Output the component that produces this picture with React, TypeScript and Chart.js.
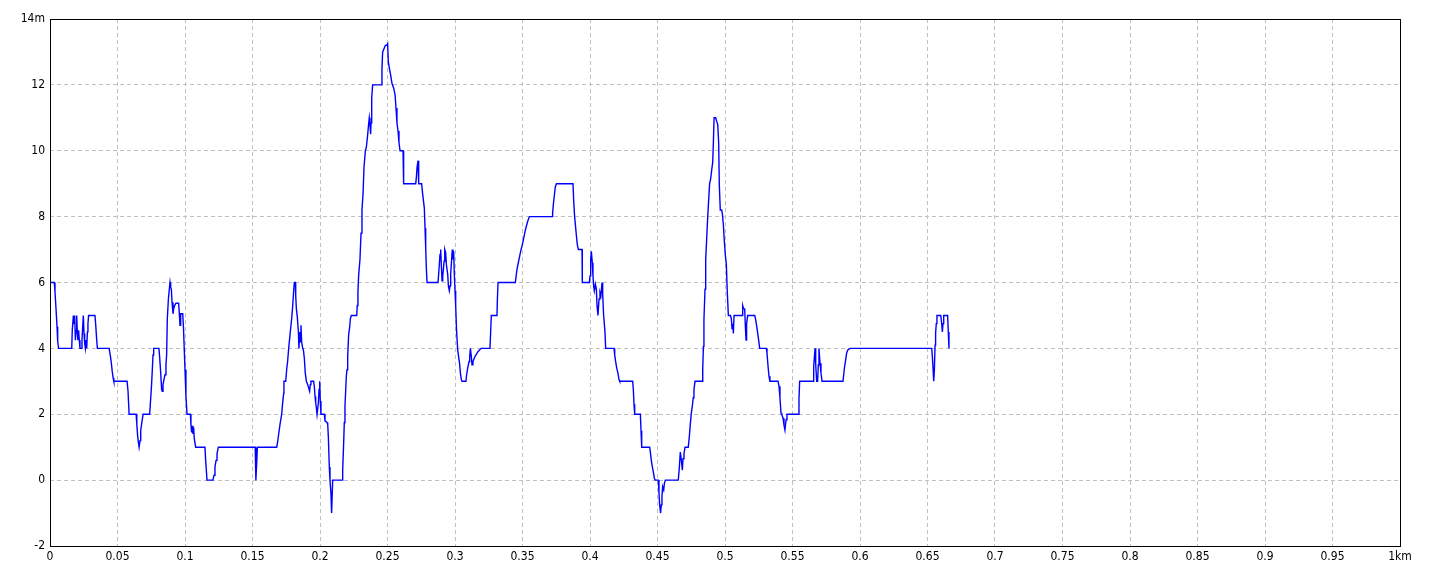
import React, { useEffect, useRef } from "react";
import { Chart, registerables } from "chart.js";

Chart.register(...registerables);

// Distance along the profile (km)
const distKm: number[] = [
  0, 0.0032, 0.0037, 0.0044, 0.0052, 0.0057, 0.0064, 0.0161, 0.0165, 0.0173,
  0.0178, 0.0183, 0.0188, 0.0193, 0.0198, 0.0202, 0.0207, 0.0212, 0.0217, 0.0222,
  0.0232, 0.0237, 0.0242, 0.0247, 0.0252, 0.0257, 0.0262, 0.0267, 0.0272, 0.0277,
  0.0281, 0.0286, 0.0333, 0.0338, 0.0346, 0.0351, 0.0438, 0.0446, 0.0453, 0.0461,
  0.0468, 0.0473, 0.0571, 0.0578, 0.0586, 0.0638, 0.0643, 0.065, 0.066, 0.0667,
  0.0672, 0.0682, 0.069, 0.0738, 0.0743, 0.0751, 0.0758, 0.0763, 0.0768, 0.0807,
  0.0812, 0.082, 0.0827, 0.0832, 0.0837, 0.0844, 0.0852, 0.0859, 0.0864, 0.0869,
  0.0877, 0.0884, 0.0889, 0.0894, 0.0899, 0.0904, 0.0911, 0.0916, 0.0923, 0.0933,
  0.0953, 0.0958, 0.0963, 0.0968, 0.0983, 0.0988, 0.0993, 0.1, 0.1007, 0.1015,
  0.104, 0.1044, 0.1049, 0.1054, 0.1059, 0.1064, 0.1069, 0.1079, 0.1148, 0.1153,
  0.1158, 0.1163, 0.1207, 0.1215, 0.1222, 0.123, 0.1237, 0.1247, 0.152, 0.1525,
  0.1532, 0.1536, 0.1679, 0.1686, 0.1694, 0.1704, 0.1716, 0.1723, 0.1731, 0.1733,
  0.1746, 0.1753, 0.176, 0.1768, 0.178, 0.179, 0.1798, 0.1805, 0.181, 0.1817,
  0.182, 0.1825, 0.1832, 0.184, 0.1844, 0.1849, 0.1854, 0.1859, 0.1864, 0.1872,
  0.1877, 0.1884, 0.1891, 0.1899, 0.1909, 0.1916, 0.1923, 0.1928, 0.1933, 0.1953,
  0.1958, 0.1963, 0.1968, 0.1973, 0.1978, 0.1983, 0.1988, 0.1993, 0.1998, 0.2002,
  0.2007, 0.2032, 0.2037, 0.2052, 0.2057, 0.2062, 0.2069, 0.2074, 0.2081, 0.2086,
  0.2094, 0.2163, 0.2168, 0.2175, 0.218, 0.2185, 0.219, 0.2195, 0.22, 0.2205,
  0.2212, 0.222, 0.2225, 0.2232, 0.2272, 0.2276, 0.2281, 0.2286, 0.2296, 0.2304,
  0.2311, 0.2319, 0.2326, 0.2336, 0.2343, 0.2351, 0.236, 0.2365, 0.237, 0.2375,
  0.2378, 0.2383, 0.239, 0.2457, 0.2459, 0.2464, 0.2474, 0.2484, 0.2494, 0.2501,
  0.2506, 0.2514, 0.2523, 0.2533, 0.2546, 0.2556, 0.2563, 0.257, 0.2578, 0.2585,
  0.2593, 0.2615, 0.2617, 0.2622, 0.2709, 0.2714, 0.2719, 0.2726, 0.2731, 0.2753,
  0.276, 0.2773, 0.2778, 0.2783, 0.2788, 0.2793, 0.2874, 0.2879, 0.2889, 0.2894,
  0.2899, 0.2904, 0.2909, 0.2914, 0.2919, 0.2924, 0.2931, 0.2936, 0.2946, 0.2951,
  0.2958, 0.2963, 0.2968, 0.2975, 0.298, 0.2985, 0.299, 0.2995, 0.3, 0.3005,
  0.3012, 0.302, 0.3027, 0.3035, 0.304, 0.3047, 0.3052, 0.3081, 0.3086, 0.3094,
  0.3104, 0.3109, 0.3114, 0.3121, 0.3126, 0.3133, 0.3148, 0.317, 0.3193, 0.3259,
  0.3264, 0.3269, 0.3311, 0.3314, 0.3319, 0.3447, 0.3459, 0.3469, 0.3479, 0.3489,
  0.3499, 0.3509, 0.3519, 0.3528, 0.3538, 0.3551, 0.3719, 0.3723, 0.3728, 0.3736,
  0.3743, 0.3751, 0.3874, 0.3879, 0.3886, 0.3894, 0.3901, 0.3906, 0.3914, 0.3941,
  0.3943, 0.3995, 0.4, 0.4005, 0.401, 0.4017, 0.4022, 0.4027, 0.4032, 0.404,
  0.4047, 0.4052, 0.4059, 0.4067, 0.4074, 0.4081, 0.4089, 0.4094, 0.4101, 0.4111,
  0.4116, 0.4178, 0.4183, 0.419, 0.4198, 0.4207, 0.4215, 0.422, 0.4316, 0.4321,
  0.4326, 0.4331, 0.4373, 0.4378, 0.4383, 0.4442, 0.4447, 0.4454, 0.4462, 0.4469,
  0.4477, 0.4484, 0.4506, 0.4511, 0.4516, 0.4523, 0.4528, 0.4533, 0.4538, 0.4546,
  0.4551, 0.4558, 0.4654, 0.4662, 0.4669, 0.4677, 0.4684, 0.4689, 0.4696, 0.4704,
  0.4728, 0.4736, 0.4743, 0.4751, 0.4758, 0.4765, 0.477, 0.4778, 0.483, 0.4835,
  0.484, 0.4844, 0.4852, 0.4857, 0.4864, 0.4872, 0.4879, 0.4886, 0.4894, 0.4901,
  0.4909, 0.4914, 0.4919, 0.4931, 0.4938, 0.4946, 0.4953, 0.4958, 0.4965, 0.4975,
  0.498, 0.4988, 0.4995, 0.5002, 0.501, 0.5017, 0.5025, 0.504, 0.5047, 0.5052,
  0.5057, 0.5062, 0.5067, 0.5126, 0.5131, 0.5138, 0.5146, 0.5151, 0.5156, 0.516,
  0.5168, 0.522, 0.5227, 0.5235, 0.5242, 0.5249, 0.5257, 0.5306, 0.5311, 0.5319,
  0.5326, 0.5333, 0.5393, 0.54, 0.5407, 0.5415, 0.5422, 0.543, 0.5437, 0.5444,
  0.5452, 0.5459, 0.5541, 0.5548, 0.5553, 0.5652, 0.5657, 0.5667, 0.5672, 0.5679,
  0.5686, 0.5691, 0.5696, 0.5704, 0.5711, 0.5719, 0.5874, 0.5879, 0.5886, 0.5894,
  0.5901, 0.5911, 0.5928, 0.6531, 0.6536, 0.6541, 0.6546, 0.6551, 0.6556, 0.656,
  0.6565, 0.657, 0.6598, 0.6605, 0.661, 0.6615, 0.662, 0.6649, 0.6654, 0.6659,
];

// Elevation (m)
const elevM: number[] = [
  6.0, 6.0, 5.72, 5.24, 4.66, 4.2, 4.0, 4.0, 4.55, 5.0,
  4.75, 5.0, 4.25, 4.55, 5.0, 4.5, 4.25, 4.55, 4.25, 4.0,
  4.0, 4.25, 4.65, 5.0, 4.45, 4.15, 4.0, 4.25, 4.0, 4.5,
  4.75, 5.0, 5.0, 4.75, 4.25, 4.0, 4.0, 3.8, 3.6, 3.3,
  3.1, 3.0, 3.0, 2.7, 2.0, 2.0, 1.7, 1.3, 1.0, 1.2,
  1.5, 1.8, 2.0, 2.0, 2.3, 2.8, 3.35, 3.8, 4.0, 4.0,
  3.75, 3.25, 2.75, 2.7, 2.9, 3.05, 3.2, 3.5, 3.8, 4.9,
  5.5, 5.8, 6.0, 5.85, 5.8, 5.4, 5.05, 5.2, 5.3, 5.37,
  5.37, 5.05, 4.7, 5.05, 5.05, 4.7, 4.15, 3.35, 2.55, 2.0,
  2.0, 1.7, 1.45, 1.65, 1.4, 1.6, 1.25, 1.0, 1.0, 0.6,
  0.3, 0.0, 0.0, 0.15, 0.4, 0.6, 0.8, 1.0, 1.0, 0.0,
  0.6, 1.0, 1.0, 1.15, 1.4, 1.7, 2.0, 2.33, 2.64, 3.0,
  3.0, 3.35, 3.6, 4.0, 4.5, 4.9, 5.3, 5.75, 6.0, 6.0,
  5.6, 5.2, 4.95, 4.5, 4.0, 4.5, 4.2, 4.7, 4.2, 4.0,
  3.95, 3.7, 3.25, 3.0, 2.9, 2.8, 2.7, 2.9, 3.0, 3.0,
  2.85, 2.55, 2.35, 2.2, 2.0, 2.0, 2.35, 2.75, 3.0, 2.4,
  2.0, 2.0, 1.8, 1.75, 1.7, 1.3, 0.4, 0.0, -0.4, -1.0,
  0.0, 0.0, 0.3, 1.1, 1.75, 2.25, 2.7, 3.15, 3.35, 3.75,
  4.4, 4.65, 4.9, 5.0, 5.0, 5.3, 5.7, 6.2, 6.7, 7.5,
  8.2, 8.7, 9.5, 10.0, 10.1, 10.4, 10.8, 11.0, 10.8, 10.5,
  10.85, 11.6, 12.0, 12.0, 12.5, 13.0, 13.1, 13.2, 13.2, 13.25,
  12.7, 12.5, 12.3, 12.05, 11.9, 11.7, 11.3, 10.85, 10.6, 10.25,
  10.0, 10.0, 9.5, 9.0, 9.0, 9.2, 9.5, 9.7, 9.0, 9.0,
  8.7, 8.25, 7.65, 7.05, 6.4, 6.0, 6.0, 6.25, 6.85, 7.0,
  6.5, 6.05, 6.2, 6.4, 6.65, 7.0, 6.9, 6.55, 6.25, 5.9,
  5.75, 5.9, 6.25, 6.7, 7.0, 6.7, 6.95, 6.25, 5.75, 5.3,
  4.5, 3.95, 3.75, 3.5, 3.25, 3.05, 3.0, 3.0, 3.2, 3.4,
  3.6, 3.75, 4.0, 3.75, 3.5, 3.6, 3.75, 3.9, 4.0, 4.0,
  4.5, 5.0, 5.0, 5.5, 6.0, 6.0, 6.4, 6.6, 6.8, 7.0,
  7.15, 7.35, 7.55, 7.7, 7.85, 8.0, 8.0, 8.1, 8.35, 8.65,
  8.9, 9.0, 9.0, 8.5, 8.0, 7.65, 7.35, 7.15, 7.0, 7.0,
  6.0, 6.0, 6.2, 6.7, 6.95, 6.6, 6.2, 5.9, 5.75, 5.95,
  5.8, 5.3, 5.0, 5.5, 5.7, 5.6, 6.0, 5.65, 5.0, 4.5,
  4.0, 4.0, 3.8, 3.6, 3.4, 3.25, 3.05, 3.0, 3.0, 2.75,
  2.3, 2.0, 2.0, 1.5, 1.0, 1.0, 0.85, 0.6, 0.4, 0.25,
  0.05, 0.0, 0.0, -0.4, -0.75, -1.0, -0.75, -0.5, -0.2, -0.3,
  -0.1, 0.0, 0.0, 0.4, 0.85, 0.6, 0.3, 0.65, 0.8, 1.0,
  1.0, 1.33, 1.7, 2.05, 2.25, 2.5, 2.75, 3.0, 3.0, 3.35,
  4.06, 4.87, 5.8, 6.7, 7.3, 8.0, 8.5, 9.0, 9.15, 9.4,
  9.65, 10.25, 11.0, 11.0, 10.9, 10.8, 10.25, 8.95, 8.2, 8.2,
  8.1, 7.75, 7.25, 6.85, 6.55, 5.7, 5.0, 5.0, 4.9, 4.6,
  4.75, 4.45, 5.0, 5.0, 5.3, 5.2, 5.2, 4.65, 4.25, 4.75,
  5.0, 5.0, 4.87, 4.67, 4.47, 4.26, 4.0, 4.0, 3.86, 3.45,
  3.15, 3.0, 3.0, 2.85, 2.5, 2.03, 1.98, 1.88, 1.67, 1.52,
  1.83, 2.0, 2.0, 2.44, 3.0, 3.0, 3.45, 4.0, 3.5, 3.0,
  3.0, 3.5, 4.0, 3.55, 3.25, 3.0, 3.0, 3.2, 3.45, 3.65,
  3.86, 3.96, 4.0, 4.0, 3.75, 3.4, 3.0, 3.35, 4.1, 4.45,
  4.75, 5.0, 5.0, 4.75, 4.5, 4.75, 5.0, 5.0, 4.5, 4.0,
];

const xTickValues: number[] = [
  0, 0.05, 0.1, 0.15, 0.2, 0.25, 0.3, 0.35, 0.4, 0.45, 0.5,
  0.55, 0.6, 0.65, 0.7, 0.75, 0.8, 0.85, 0.9, 0.95, 1,
];
const xTickLabels: string[] = [
  "0", "0.05", "0.1", "0.15", "0.2", "0.25", "0.3", "0.35", "0.4", "0.45", "0.5",
  "0.55", "0.6", "0.65", "0.7", "0.75", "0.8", "0.85", "0.9", "0.95", "1km",
];
const yTickValues: number[] = [-2, 0, 2, 4, 6, 8, 10, 12, 14];
const yTickLabels: string[] = ["-2", "0", "2", "4", "6", "8", "10", "12", "14m"];

const FONT_FAMILY = '"Liberation Sans Narrow", "DejaVu Sans Condensed", "Liberation Sans", sans-serif';

const frameBorder = {
  id: "frameBorder",
  afterDraw(chart: any) {
    const { ctx, chartArea } = chart;
    ctx.save();
    ctx.strokeStyle = "#000000";
    ctx.lineWidth = 1;
    ctx.setLineDash([]);
    ctx.strokeRect(
      Math.round(chartArea.left) + 0.5,
      Math.round(chartArea.top) + 0.5,
      Math.round(chartArea.right - chartArea.left),
      Math.round(chartArea.bottom - chartArea.top)
    );
    ctx.restore();
  },
};

export default function App() {
  const canvasRef = useRef<HTMLCanvasElement | null>(null);

  useEffect(() => {
    const canvas = canvasRef.current;
    if (!canvas) return;
    const points = distKm.map((x, i) => ({ x, y: elevM[i] }));
    const chart = new Chart(canvas, {
      type: "line",
      data: {
        datasets: [
          {
            data: points,
            borderColor: "#0000ff",
            borderWidth: 1.4,
            pointRadius: 0,
            pointHoverRadius: 0,
            tension: 0,
            fill: false,
          },
        ],
      },
      options: {
        animation: false,
        responsive: false,
        devicePixelRatio: 1,
        events: [],
        layout: { padding: { left: 0, right: 40, top: 19, bottom: 0 } },
        plugins: {
          legend: { display: false },
          tooltip: { enabled: false },
          title: { display: false },
        },
        scales: {
          x: {
            type: "linear",
            min: 0,
            max: 1,
            afterBuildTicks: (scale: any) => {
              scale.ticks = xTickValues.map((v) => ({ value: v }));
            },
            afterFit: (scale: any) => {
              scale.height = 30;
            },
            ticks: {
              autoSkip: false,
              maxRotation: 0,
              minRotation: 0,
              padding: 4,
              color: "#000000",
              font: { family: FONT_FAMILY, size: 12 },
              callback: (_v: any, i: number) => xTickLabels[i],
            },
            grid: {
              color: "#c0c0c0",
              lineWidth: 1,
              drawTicks: false,
            },
            border: { display: false, dash: [4, 3] },
          },
          y: {
            type: "linear",
            min: -2,
            max: 14,
            afterBuildTicks: (scale: any) => {
              scale.ticks = yTickValues.map((v) => ({ value: v }));
            },
            afterFit: (scale: any) => {
              scale.width = 50;
            },
            ticks: {
              autoSkip: false,
              padding: 5,
              color: "#000000",
              font: { family: FONT_FAMILY, size: 12 },
              callback: (_v: any, i: number) => yTickLabels[i],
            },
            grid: {
              color: "#c0c0c0",
              lineWidth: 1,
              drawTicks: false,
            },
            border: { display: false, dash: [4, 3] },
          },
        },
      },
      plugins: [frameBorder],
    });
    return () => {
      chart.destroy();
    };
  }, []);

  return (
    <div
      style={{
        position: "fixed",
        left: 0,
        top: 0,
        width: 1440,
        height: 576,
        background: "#ffffff",
      }}
    >
      <canvas
        ref={canvasRef}
        width={1440}
        height={576}
        style={{ display: "block", width: 1440, height: 576 }}
      />
    </div>
  );
}
